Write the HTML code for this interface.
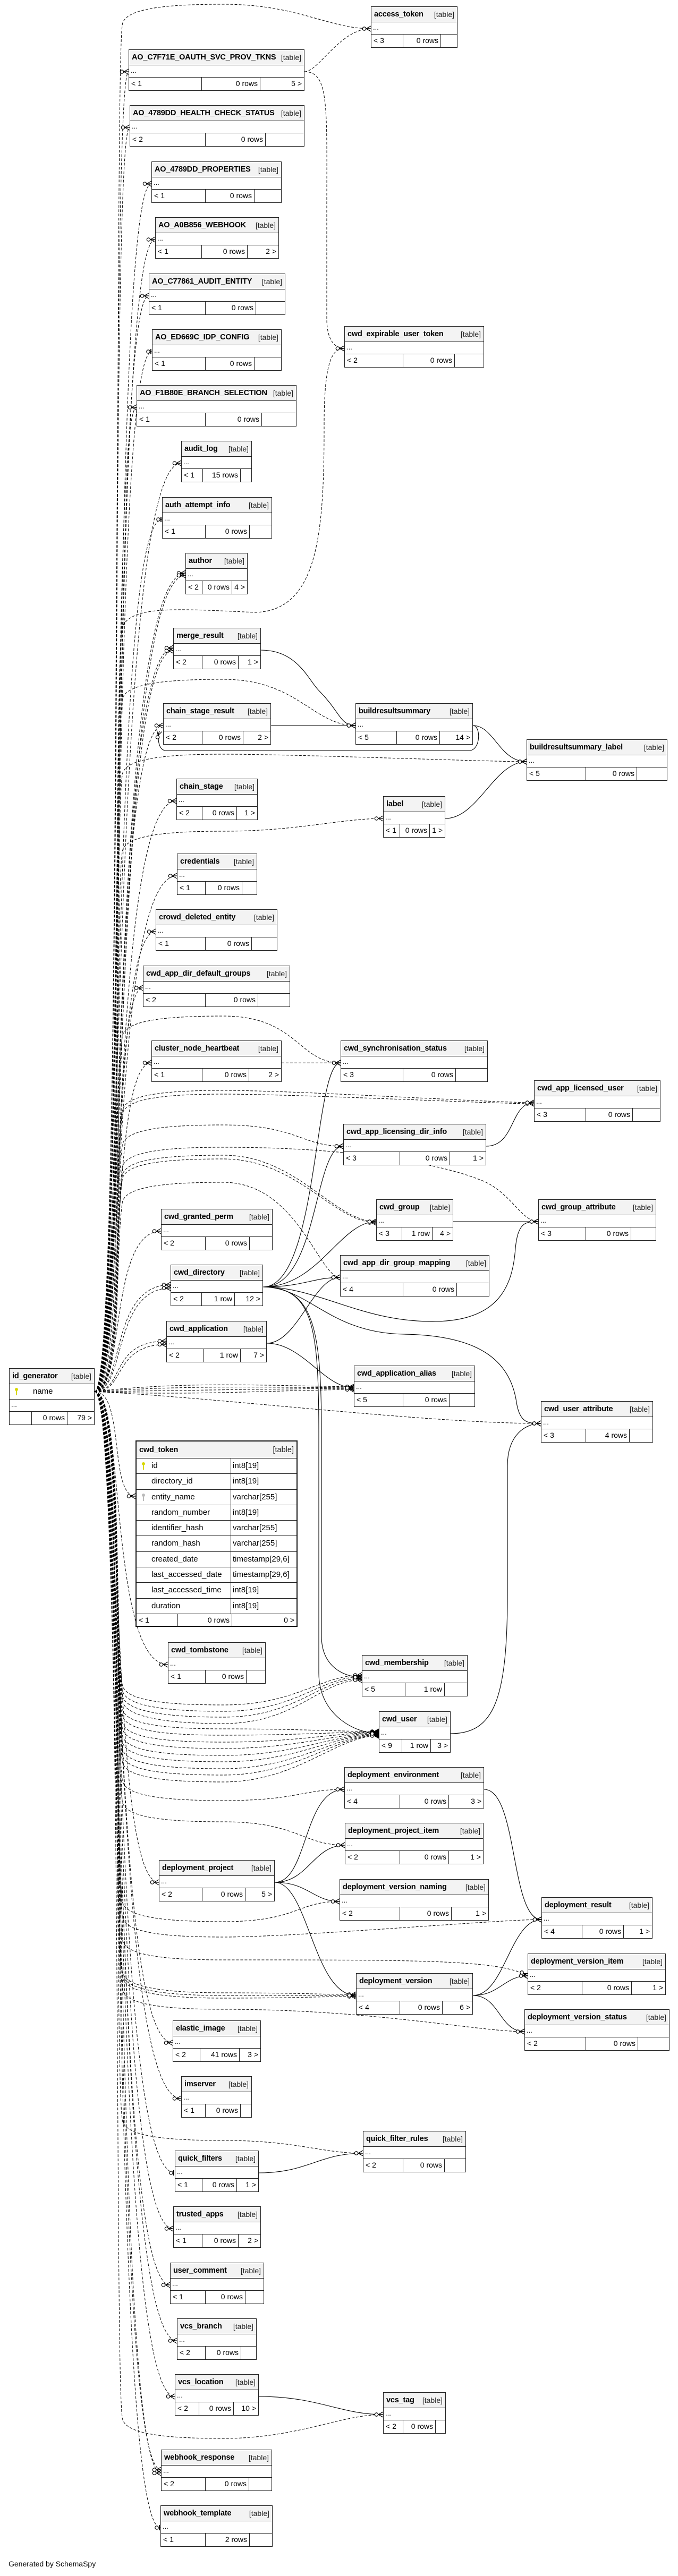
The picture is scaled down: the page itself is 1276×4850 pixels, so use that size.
<!DOCTYPE html>
<html><head><meta charset="utf-8">
<style>
html,body{margin:0;padding:0;background:#fff}
body{width:1276px;height:4850px;position:relative;overflow:hidden;font-family:"Liberation Sans",sans-serif;color:#000}
svg.e{position:absolute;left:0;top:0}
.t{position:absolute;border:1px solid #222;background:#fff;box-sizing:border-box;font-size:14px}
.h{height:28px;background:#f3f3f3;border-bottom:1px solid #222;display:flex;justify-content:space-between;align-items:center;padding:0 5px;font-size:14px;white-space:nowrap;overflow:hidden}
.h b{font-size:14.5px;letter-spacing:-0.2px}
.h span{color:#222;margin-left:6px}
.r{height:22px;border-bottom:1px solid #222;line-height:20px;padding-left:3px;font-size:13px}
.f{height:24px;display:flex;line-height:23px;white-space:nowrap;font-size:14px}
.f i{font-style:normal;box-sizing:border-box;border-right:1px solid #222;padding:0 4px;overflow:hidden}
.f i:last-child{border-right:none;flex:1}
.n{text-align:right}
.tk{border:2px solid #111}
.tk .row{height:29.3px;display:flex;border-bottom:1px solid #222;box-sizing:border-box;line-height:28px;font-size:15px}
.tk .row .a{width:178px;border-right:1px solid #222;padding-left:28px;box-sizing:border-box;position:relative}
.tk .row .b{flex:1;padding-left:3px}
.key{position:absolute;left:10px;top:7px;width:6px;height:6px;border-radius:50%;background:#d8d800}
.key:after{content:"";position:absolute;left:2px;top:5px;width:2px;height:9px;background:#d8d800}
.key.g,.key.g:after{background:#bbb}
.gen{position:absolute;left:16px;top:4819px;font-size:14px}
</style></head><body>
<svg class="e" width="1276" height="4850" viewBox="0 0 1276 4850">
<defs>
<marker id="m" markerUnits="userSpaceOnUse" markerWidth="22" markerHeight="14" refX="21" refY="7" orient="auto"><path d="M12 7 L21 2 M12 7 L21 7 M12 7 L21 12" stroke="#000" stroke-width="1.2" fill="none"/><circle cx="8.5" cy="7" r="3.2" fill="#fff" stroke="#000" stroke-width="1.2"/></marker>
<marker id="b" markerUnits="userSpaceOnUse" markerWidth="22" markerHeight="14" refX="21" refY="7" orient="auto"><path d="M19 2 L19 12" stroke="#000" stroke-width="2" fill="none"/><circle cx="14" cy="7" r="3.2" fill="#fff" stroke="#000" stroke-width="1.2"/></marker>
</defs>
<g fill="none" stroke="#000" stroke-width="1" stroke-dasharray="5,3" marker-end="url(#m)">
<path d="M178 2620 C232 2620 215 158 230 48 C232 18 300 8 420 8 C560 8 618 54 698 54"/>
<path d="M178 2620 C235 2620 205 135 242 135"/>
<path d="M178 2620 C235 2620 205 240 244 240"/>
<path d="M178 2620 C235 2620 205 346 285 346"/>
<path d="M178 2620 C235 2620 205 451 292 451"/>
<path d="M178 2620 C235 2620 205 557 280 557"/>
<path d="M178 2620 C235 2620 205 662 286 662" marker-end="url(#b)"/>
<path d="M178 2620 C235 2620 205 767 257 767"/>
<path d="M178 2620 C235 2620 205 872 341 872"/>
<path d="M178 2620 C235 2620 205 978 305 978" marker-end="url(#b)"/>
<path d="M178 2620 C235 2620 205 1079 349 1079"/>
<path d="M178 2620 C238 2620 210 1087 349 1083"/>
<path d="M178 2620 C232 2620 212 1300 230 1180 C250 1140 330 1146 480 1153 C600 1150 610 1000 610 800 C610 680 625 656 648 656"/>
<path d="M178 2620 C235 2620 205 1220 326 1220"/>
<path d="M178 2620 C238 2620 210 1228 326 1225"/>
<path d="M178 2620 C232 2620 215 1429 230 1319 C232 1289 300 1279 420 1279 C560 1279 589 1366 669 1366"/>
<path d="M178 2620 C235 2620 205 1366 307 1366"/>
<path d="M178 2620 C232 2620 215 1570 230 1460 C232 1430 300 1420 420 1420 C560 1420 911 1434 991 1434"/>
<path d="M178 2620 C235 2620 205 1508 332 1508"/>
<path d="M178 2620 C232 2620 215 1715 230 1605 C232 1575 300 1565 420 1565 C560 1565 641 1541 721 1541"/>
<path d="M178 2620 C235 2620 205 1649 333 1649"/>
<path d="M178 2620 C235 2620 205 1754 293 1754"/>
<path d="M178 2620 C235 2620 205 1860 269 1860"/>
<path d="M178 2620 C235 2620 205 2001 285 2001"/>
<path d="M178 2620 C232 2620 215 2063 230 1953 C232 1923 300 1913 420 1913 C560 1913 561 2001 641 2001"/>
<path d="M178 2620 C232 2620 215 2203 230 2093 C232 2063 300 2053 420 2053 C560 2053 925 2076 1005 2076"/>
<path d="M178 2620 C232 2620 215 2210 230 2100 C232 2070 300 2060 420 2060 C560 2060 925 2078 1005 2078"/>
<path d="M178 2620 C232 2620 215 2268 230 2158 C232 2128 300 2118 420 2118 C560 2118 566 2158 646 2158"/>
<path d="M178 2620 C232 2620 215 2325 230 2215 C232 2185 300 2175 420 2175 C560 2175 628 2300 708 2300"/>
<path d="M178 2620 C232 2620 215 2332 230 2222 C232 2192 300 2182 420 2182 C560 2182 628 2302 708 2302"/>
<path d="M178 2620 C232 2620 215 2310 230 2200 C232 2170 300 2160 420 2160 C700 2160 850 2200 900 2220 C960 2240 980 2300 1013 2300"/>
<path d="M178 2620 C232 2620 215 2376 230 2266 C232 2236 300 2226 420 2226 C560 2226 600 2405 640 2405"/>
<path d="M178 2620 C235 2620 205 2318 303 2318"/>
<path d="M178 2620 C235 2620 205 2419 321 2419"/>
<path d="M178 2620 C238 2620 210 2427 321 2425"/>
<path d="M178 2620 C235 2620 205 2525 313 2525"/>
<path d="M178 2620 C238 2620 210 2533 313 2531"/>
<path d="M178 2620 C350 2600 500 2609 666 2611"/>
<path d="M178 2620 C350 2608 500 2612 666 2613"/>
<path d="M178 2620 C350 2618 500 2615 666 2614"/>
<path d="M178 2620 C350 2628 500 2618 666 2616"/>
<path d="M178 2620 C400 2630 800 2680 1018 2680"/>
<path d="M178 2620 C235 2620 205 2817 255 2817"/>
<path d="M178 2620 C235 2620 205 3134 316 3134"/>
<path d="M178 2620 C232 2620 215 3060 230 3170 C232 3200 300 3210 420 3210 C560 3210 601 3154 681 3154"/>
<path d="M178 2620 C232 2620 215 3070 230 3180 C232 3210 300 3222 420 3222 C560 3222 601 3157 681 3157"/>
<path d="M178 2620 C232 2620 215 3080 230 3190 C232 3220 300 3233 420 3233 C560 3233 601 3160 681 3160"/>
<path d="M178 2620 C232 2620 215 3090 230 3200 C232 3230 300 3245 420 3245 C560 3245 601 3163 681 3163"/>
<path d="M178 2620 C232 2620 215 3105 230 3215 C232 3245 300 3255 420 3255 C560 3255 633 3260 713 3260"/>
<path d="M178 2620 C232 2620 215 3117 230 3227 C232 3257 300 3267 420 3267 C560 3267 633 3261 713 3261"/>
<path d="M178 2620 C232 2620 215 3130 230 3240 C232 3270 300 3280 420 3280 C560 3280 633 3262 713 3262"/>
<path d="M178 2620 C232 2620 215 3142 230 3252 C232 3282 300 3292 420 3292 C560 3292 633 3263 713 3263"/>
<path d="M178 2620 C232 2620 215 3155 230 3265 C232 3295 300 3305 420 3305 C560 3305 633 3264 713 3264"/>
<path d="M178 2620 C232 2620 215 3167 230 3277 C232 3307 300 3317 420 3317 C560 3317 633 3265 713 3265"/>
<path d="M178 2620 C232 2620 215 3180 230 3290 C232 3320 300 3330 420 3330 C560 3330 633 3266 713 3266"/>
<path d="M178 2620 C232 2620 215 3192 230 3302 C232 3332 300 3342 420 3342 C560 3342 633 3267 713 3267"/>
<path d="M178 2620 C232 2620 215 3205 230 3315 C232 3345 300 3355 420 3355 C560 3355 633 3268 713 3268"/>
<path d="M178 2620 C232 2620 215 3240 230 3350 C232 3380 300 3390 420 3390 C560 3390 568 3369 648 3369"/>
<path d="M178 2620 C232 2620 215 3280 230 3390 C232 3420 300 3430 420 3430 C560 3430 569 3474 649 3474"/>
<path d="M178 2620 C235 2620 205 3544 299 3544"/>
<path d="M178 2620 C232 2620 215 3468 230 3578 C232 3608 300 3618 420 3618 C560 3618 559 3580 639 3580"/>
<path d="M178 2620 C232 2620 215 3497 230 3607 C232 3637 300 3647 420 3647 C560 3647 939 3614 1019 3614"/>
<path d="M178 2620 C232 2620 215 3540 230 3650 C232 3680 300 3690 420 3690 C800 3690 940 3690 993 3720"/>
<path d="M178 2620 C232 2620 215 3600 230 3710 C232 3740 300 3752 420 3752 C560 3752 590 3755 670 3755"/>
<path d="M178 2620 C232 2620 215 3605 230 3715 C232 3745 300 3757 420 3757 C560 3757 590 3757 670 3757"/>
<path d="M178 2620 C232 2620 215 3610 230 3720 C232 3750 300 3762 420 3762 C560 3762 590 3759 670 3759"/>
<path d="M178 2620 C232 2620 215 3633 230 3743 C232 3773 300 3783 420 3783 C700 3783 900 3825 987 3825"/>
<path d="M178 2620 C235 2620 205 3846 325 3846"/>
<path d="M178 2620 C235 2620 205 3951 341 3951"/>
<path d="M178 2620 C232 2620 215 3880 230 3990 C232 4020 300 4030 420 4030 C560 4030 603 4054 683 4054"/>
<path d="M178 2620 C235 2620 205 4091 329 4091" marker-end="url(#b)"/>
<path d="M178 2620 C235 2620 205 4196 326 4196"/>
<path d="M178 2620 C235 2620 205 4302 320 4302"/>
<path d="M178 2620 C235 2620 205 4407 333 4407"/>
<path d="M178 2620 C235 2620 205 4512 329 4512"/>
<path d="M178 2620 C232 2620 215 4441 230 4551 C232 4581 300 4591 420 4591 C560 4591 641 4546 721 4546"/>
<path d="M178 2620 C235 2620 205 4650 303 4650"/>
<path d="M178 2620 C238 2620 210 4658 303 4656"/>
<path d="M178 2620 C235 2620 205 4759 302 4759" marker-end="url(#b)"/>
<path d="M573 135 C600 135 640 54 698 54"/>
<path d="M573 135 C620 135 615 200 615 400 L615 600 C615 640 630 656 648 656"/>
<path d="M530 2001 L641 2001" stroke="#888"/>
</g>
<g fill="none" stroke="#000" stroke-width="1.1" marker-end="url(#m)">
<path d="M491 1224 C560 1224 580 1280 600 1300 C640 1340 640 1366 669 1366"/>
<path d="M510 1366 L669 1366"/>
<path d="M890 1366 C905 1366 905 1410 885 1413 L310 1413 C298 1410 296 1390 300 1376"/>
<path d="M890 1366 C930 1366 940 1434 991 1434"/>
<path d="M838 1541 C900 1541 930 1434 991 1434"/>
<path d="M495 2423 C600 2423 590 2001 641 2001"/>
<path d="M495 2423 C600 2423 590 2158 646 2158"/>
<path d="M495 2423 C600 2423 640 2300 708 2300"/>
<path d="M495 2423 C570 2423 590 2405 640 2405"/>
<path d="M495 2423 C600 2423 680 2490 820 2488 C940 2486 965 2420 970 2350 C975 2300 990 2300 1013 2300"/>
<path d="M495 2423 C580 2423 620 2510 760 2512 C900 2514 960 2560 972 2640 C978 2680 995 2680 1018 2680"/>
<path d="M495 2423 C590 2423 605 2500 605 2700 L605 3080 C605 3140 650 3158 681 3158"/>
<path d="M495 2423 C590 2423 600 2500 600 2700 L600 3150 C600 3230 670 3264 713 3264"/>
<path d="M915 2158 C970 2158 960 2076 1005 2076"/>
<path d="M853 2300 L1013 2300"/>
<path d="M502 2529 C560 2529 590 2405 640 2405"/>
<path d="M502 2529 C570 2529 610 2613 666 2613"/>
<path d="M848 3264 C930 3264 955 3200 955 3000 L955 2760 C955 2700 990 2680 1018 2680"/>
<path d="M517 3544 C580 3544 570 3369 648 3369"/>
<path d="M517 3544 C580 3544 590 3474 649 3474"/>
<path d="M517 3544 C580 3544 590 3580 639 3580"/>
<path d="M517 3544 C580 3544 590 3757 670 3757"/>
<path d="M911 3369 C975 3369 960 3614 1019 3614"/>
<path d="M890 3757 C950 3757 960 3614 1019 3614"/>
<path d="M890 3757 C940 3757 950 3720 993 3720"/>
<path d="M890 3757 C940 3757 940 3825 987 3825"/>
<path d="M487 4091 C580 4091 600 4054 683 4054"/>
<path d="M487 4512 C600 4512 640 4546 721 4546"/>
</g>
</svg>

<div class="t" style="left:698px;top:12px;width:163px"><div class="h"><b>access_token</b><span>[table]</span></div><div class="r">...</div><div class="f"><i style="width:60px">&lt; 3</i><i class="n" style="width:71px">0 rows</i><i></i></div></div>
<div class="t" style="left:242px;top:93px;width:331px"><div class="h"><b>AO_C7F71E_OAUTH_SVC_PROV_TKNS</b><span>[table]</span></div><div class="r">...</div><div class="f"><i style="width:137px">&lt; 1</i><i class="n" style="width:110px">0 rows</i><i class="n">5 &gt;</i></div></div>
<div class="t" style="left:244px;top:198px;width:329px"><div class="h"><b>AO_4789DD_HEALTH_CHECK_STATUS</b><span>[table]</span></div><div class="r">...</div><div class="f"><i style="width:142px">&lt; 2</i><i class="n" style="width:113px">0 rows</i><i></i></div></div>
<div class="t" style="left:285px;top:304px;width:245px"><div class="h"><b>AO_4789DD_PROPERTIES</b><span>[table]</span></div><div class="r">...</div><div class="f"><i style="width:101px">&lt; 1</i><i class="n" style="width:92px">0 rows</i><i></i></div></div>
<div class="t" style="left:292px;top:409px;width:233px"><div class="h"><b>AO_A0B856_WEBHOOK</b><span>[table]</span></div><div class="r">...</div><div class="f"><i style="width:87px">&lt; 1</i><i class="n" style="width:86px">0 rows</i><i class="n">2 &gt;</i></div></div>
<div class="t" style="left:280px;top:515px;width:257px"><div class="h"><b>AO_C77861_AUDIT_ENTITY</b><span>[table]</span></div><div class="r">...</div><div class="f"><i style="width:106px">&lt; 1</i><i class="n" style="width:95px">0 rows</i><i></i></div></div>
<div class="t" style="left:286px;top:620px;width:244px"><div class="h"><b>AO_ED669C_IDP_CONFIG</b><span>[table]</span></div><div class="r">...</div><div class="f"><i style="width:100px">&lt; 1</i><i class="n" style="width:92px">0 rows</i><i></i></div></div>
<div class="t" style="left:257px;top:725px;width:301px"><div class="h"><b>AO_F1B80E_BRANCH_SELECTION</b><span>[table]</span></div><div class="r">...</div><div class="f"><i style="width:129px">&lt; 1</i><i class="n" style="width:106px">0 rows</i><i></i></div></div>
<div class="t" style="left:341px;top:830px;width:133px"><div class="h"><b>audit_log</b><span>[table]</span></div><div class="r">...</div><div class="f"><i style="width:40px">&lt; 1</i><i class="n" style="width:71px">15 rows</i><i></i></div></div>
<div class="t" style="left:305px;top:936px;width:207px"><div class="h"><b>auth_attempt_info</b><span>[table]</span></div><div class="r">...</div><div class="f"><i style="width:81px">&lt; 1</i><i class="n" style="width:83px">0 rows</i><i></i></div></div>
<div class="t" style="left:648px;top:614px;width:263px"><div class="h"><b>cwd_expirable_user_token</b><span>[table]</span></div><div class="r">...</div><div class="f"><i style="width:110px">&lt; 2</i><i class="n" style="width:97px">0 rows</i><i></i></div></div>
<div class="t" style="left:349px;top:1041px;width:117px"><div class="h"><b>author</b><span>[table]</span></div><div class="r">...</div><div class="f"><i style="width:31px">&lt; 2</i><i class="n" style="width:56px">0 rows</i><i class="n">4 &gt;</i></div></div>
<div class="t" style="left:326px;top:1182px;width:165px"><div class="h"><b>merge_result</b><span>[table]</span></div><div class="r">...</div><div class="f"><i style="width:54px">&lt; 2</i><i class="n" style="width:68px">0 rows</i><i class="n">1 &gt;</i></div></div>
<div class="t" style="left:307px;top:1324px;width:203px"><div class="h"><b>chain_stage_result</b><span>[table]</span></div><div class="r">...</div><div class="f"><i style="width:73px">&lt; 2</i><i class="n" style="width:77px">0 rows</i><i class="n">2 &gt;</i></div></div>
<div class="t" style="left:669px;top:1324px;width:221px"><div class="h"><b>buildresultsummary</b><span>[table]</span></div><div class="r">...</div><div class="f"><i style="width:77px">&lt; 5</i><i class="n" style="width:81px">0 rows</i><i class="n">14 &gt;</i></div></div>
<div class="t" style="left:991px;top:1392px;width:265px"><div class="h"><b>buildresultsummary_label</b><span>[table]</span></div><div class="r">...</div><div class="f"><i style="width:111px">&lt; 5</i><i class="n" style="width:96px">0 rows</i><i></i></div></div>
<div class="t" style="left:332px;top:1466px;width:153px"><div class="h"><b>chain_stage</b><span>[table]</span></div><div class="r">...</div><div class="f"><i style="width:48px">&lt; 2</i><i class="n" style="width:65px">0 rows</i><i class="n">1 &gt;</i></div></div>
<div class="t" style="left:721px;top:1499px;width:117px"><div class="h"><b>label</b><span>[table]</span></div><div class="r">...</div><div class="f"><i style="width:31px">&lt; 1</i><i class="n" style="width:56px">0 rows</i><i class="n">1 &gt;</i></div></div>
<div class="t" style="left:333px;top:1607px;width:151px"><div class="h"><b>credentials</b><span>[table]</span></div><div class="r">...</div><div class="f"><i style="width:53px">&lt; 1</i><i class="n" style="width:69px">0 rows</i><i></i></div></div>
<div class="t" style="left:293px;top:1712px;width:229px"><div class="h"><b>crowd_deleted_entity</b><span>[table]</span></div><div class="r">...</div><div class="f"><i style="width:93px">&lt; 1</i><i class="n" style="width:87px">0 rows</i><i></i></div></div>
<div class="t" style="left:269px;top:1818px;width:277px"><div class="h"><b>cwd_app_dir_default_groups</b><span>[table]</span></div><div class="r">...</div><div class="f"><i style="width:117px">&lt; 2</i><i class="n" style="width:99px">0 rows</i><i></i></div></div>
<div class="t" style="left:285px;top:1959px;width:245px"><div class="h"><b>cluster_node_heartbeat</b><span>[table]</span></div><div class="r">...</div><div class="f"><i style="width:95px">&lt; 1</i><i class="n" style="width:88px">0 rows</i><i class="n">2 &gt;</i></div></div>
<div class="t" style="left:641px;top:1959px;width:277px"><div class="h"><b>cwd_synchronisation_status</b><span>[table]</span></div><div class="r">...</div><div class="f"><i style="width:117px">&lt; 3</i><i class="n" style="width:99px">0 rows</i><i></i></div></div>
<div class="t" style="left:1005px;top:2034px;width:238px"><div class="h"><b>cwd_app_licensed_user</b><span>[table]</span></div><div class="r">...</div><div class="f"><i style="width:97px">&lt; 3</i><i class="n" style="width:88px">0 rows</i><i></i></div></div>
<div class="t" style="left:646px;top:2116px;width:269px"><div class="h"><b>cwd_app_licensing_dir_info</b><span>[table]</span></div><div class="r">...</div><div class="f"><i style="width:106px">&lt; 3</i><i class="n" style="width:94px">0 rows</i><i class="n">1 &gt;</i></div></div>
<div class="t" style="left:708px;top:2258px;width:145px"><div class="h"><b>cwd_group</b><span>[table]</span></div><div class="r">...</div><div class="f"><i style="width:48px">&lt; 3</i><i class="n" style="width:57px">1 row</i><i class="n">4 &gt;</i></div></div>
<div class="t" style="left:1013px;top:2258px;width:222px"><div class="h"><b>cwd_group_attribute</b><span>[table]</span></div><div class="r">...</div><div class="f"><i style="width:89px">&lt; 3</i><i class="n" style="width:85px">0 rows</i><i></i></div></div>
<div class="t" style="left:303px;top:2276px;width:210px"><div class="h"><b>cwd_granted_perm</b><span>[table]</span></div><div class="r">...</div><div class="f"><i style="width:83px">&lt; 2</i><i class="n" style="width:83px">0 rows</i><i></i></div></div>
<div class="t" style="left:640px;top:2363px;width:281px"><div class="h"><b>cwd_app_dir_group_mapping</b><span>[table]</span></div><div class="r">...</div><div class="f"><i style="width:118px">&lt; 4</i><i class="n" style="width:101px">0 rows</i><i></i></div></div>
<div class="t" style="left:321px;top:2381px;width:174px"><div class="h"><b>cwd_directory</b><span>[table]</span></div><div class="r">...</div><div class="f"><i style="width:58px">&lt; 2</i><i class="n" style="width:62px">1 row</i><i class="n">12 &gt;</i></div></div>
<div class="t" style="left:313px;top:2487px;width:189px"><div class="h"><b>cwd_application</b><span>[table]</span></div><div class="r">...</div><div class="f"><i style="width:69px">&lt; 2</i><i class="n" style="width:70px">1 row</i><i class="n">7 &gt;</i></div></div>
<div class="t" style="left:666px;top:2571px;width:228px"><div class="h"><b>cwd_application_alias</b><span>[table]</span></div><div class="r">...</div><div class="f"><i style="width:92px">&lt; 5</i><i class="n" style="width:87px">0 rows</i><i></i></div></div>
<div class="t" style="left:1018px;top:2638px;width:211px"><div class="h"><b>cwd_user_attribute</b><span>[table]</span></div><div class="r">...</div><div class="f"><i style="width:84px">&lt; 3</i><i class="n" style="width:82px">4 rows</i><i></i></div></div>

<div class="t" style="left:17px;top:2576px;width:161px"><div class="h"><b>id_generator</b><span>[table]</span></div><div style="height:28px;border-bottom:1px solid #222;position:relative;line-height:28px;font-size:15px;padding-left:44px"><span class="key"></span>name</div><div class="r">...</div><div class="f"><i style="width:42px"></i><i class="n" style="width:67px">0 rows</i><i class="n">79 &gt;</i></div></div>

<div class="t tk" style="left:255px;top:2712px;width:305px;height:351px"><div class="h" style="height:31px;font-size:14.5px"><b>cwd_token</b><span>[table]</span></div>
<div class="row"><div class="a"><span class="key"></span>id</div><div class="b">int8[19]</div></div>
<div class="row"><div class="a">directory_id</div><div class="b">int8[19]</div></div>
<div class="row"><div class="a"><span class="key g"></span>entity_name</div><div class="b">varchar[255]</div></div>
<div class="row"><div class="a">random_number</div><div class="b">int8[19]</div></div>
<div class="row"><div class="a">identifier_hash</div><div class="b">varchar[255]</div></div>
<div class="row"><div class="a">random_hash</div><div class="b">varchar[255]</div></div>
<div class="row"><div class="a">created_date</div><div class="b">timestamp[29,6]</div></div>
<div class="row"><div class="a">last_accessed_date</div><div class="b">timestamp[29,6]</div></div>
<div class="row"><div class="a">last_accessed_time</div><div class="b">int8[19]</div></div>
<div class="row"><div class="a">duration</div><div class="b">int8[19]</div></div>
<div class="f"><i style="width:78px">&lt; 1</i><i class="n" style="width:102px">0 rows</i><i class="n">0 &gt;</i></div></div>

<div class="t" style="left:316px;top:3092px;width:184px"><div class="h"><b>cwd_tombstone</b><span>[table]</span></div><div class="r">...</div><div class="f"><i style="width:70px">&lt; 1</i><i class="n" style="width:77px">0 rows</i><i></i></div></div>
<div class="t" style="left:681px;top:3116px;width:199px"><div class="h"><b>cwd_membership</b><span>[table]</span></div><div class="r">...</div><div class="f"><i style="width:81px">&lt; 5</i><i class="n" style="width:74px">1 row</i><i></i></div></div>
<div class="t" style="left:713px;top:3222px;width:135px"><div class="h"><b>cwd_user</b><span>[table]</span></div><div class="r">...</div><div class="f"><i style="width:43px">&lt; 9</i><i class="n" style="width:54px">1 row</i><i class="n">3 &gt;</i></div></div>
<div class="t" style="left:648px;top:3327px;width:263px"><div class="h"><b>deployment_environment</b><span>[table]</span></div><div class="r">...</div><div class="f"><i style="width:104px">&lt; 4</i><i class="n" style="width:92px">0 rows</i><i class="n">3 &gt;</i></div></div>
<div class="t" style="left:649px;top:3432px;width:261px"><div class="h"><b>deployment_project_item</b><span>[table]</span></div><div class="r">...</div><div class="f"><i style="width:103px">&lt; 2</i><i class="n" style="width:92px">0 rows</i><i class="n">1 &gt;</i></div></div>
<div class="t" style="left:299px;top:3502px;width:218px"><div class="h"><b>deployment_project</b><span>[table]</span></div><div class="r">...</div><div class="f"><i style="width:81px">&lt; 2</i><i class="n" style="width:81px">0 rows</i><i class="n">5 &gt;</i></div></div>
<div class="t" style="left:639px;top:3538px;width:281px"><div class="h"><b>deployment_version_naming</b><span>[table]</span></div><div class="r">...</div><div class="f"><i style="width:113px">&lt; 2</i><i class="n" style="width:97px">0 rows</i><i class="n">1 &gt;</i></div></div>
<div class="t" style="left:1019px;top:3572px;width:209px"><div class="h"><b>deployment_result</b><span>[table]</span></div><div class="r">...</div><div class="f"><i style="width:76px">&lt; 4</i><i class="n" style="width:78px">0 rows</i><i class="n">1 &gt;</i></div></div>
<div class="t" style="left:993px;top:3678px;width:260px"><div class="h"><b>deployment_version_item</b><span>[table]</span></div><div class="r">...</div><div class="f"><i style="width:102px">&lt; 2</i><i class="n" style="width:93px">0 rows</i><i class="n">1 &gt;</i></div></div>
<div class="t" style="left:670px;top:3715px;width:220px"><div class="h"><b>deployment_version</b><span>[table]</span></div><div class="r">...</div><div class="f"><i style="width:82px">&lt; 4</i><i class="n" style="width:80px">0 rows</i><i class="n">6 &gt;</i></div></div>
<div class="t" style="left:987px;top:3783px;width:273px"><div class="h"><b>deployment_version_status</b><span>[table]</span></div><div class="r">...</div><div class="f"><i style="width:115px">&lt; 2</i><i class="n" style="width:98px">0 rows</i><i></i></div></div>
<div class="t" style="left:325px;top:3804px;width:166px"><div class="h"><b>elastic_image</b><span>[table]</span></div><div class="r">...</div><div class="f"><i style="width:51px">&lt; 2</i><i class="n" style="width:74px">41 rows</i><i class="n">3 &gt;</i></div></div>
<div class="t" style="left:341px;top:3909px;width:133px"><div class="h"><b>imserver</b><span>[table]</span></div><div class="r">...</div><div class="f"><i style="width:45px">&lt; 1</i><i class="n" style="width:66px">0 rows</i><i></i></div></div>
<div class="t" style="left:683px;top:4012px;width:194px"><div class="h"><b>quick_filter_rules</b><span>[table]</span></div><div class="r">...</div><div class="f"><i style="width:75px">&lt; 2</i><i class="n" style="width:78px">0 rows</i><i></i></div></div>
<div class="t" style="left:329px;top:4049px;width:158px"><div class="h"><b>quick_filters</b><span>[table]</span></div><div class="r">...</div><div class="f"><i style="width:51px">&lt; 1</i><i class="n" style="width:65px">0 rows</i><i class="n">1 &gt;</i></div></div>
<div class="t" style="left:326px;top:4154px;width:165px"><div class="h"><b>trusted_apps</b><span>[table]</span></div><div class="r">...</div><div class="f"><i style="width:54px">&lt; 1</i><i class="n" style="width:68px">0 rows</i><i class="n">2 &gt;</i></div></div>
<div class="t" style="left:320px;top:4260px;width:177px"><div class="h"><b>user_comment</b><span>[table]</span></div><div class="r">...</div><div class="f"><i style="width:66px">&lt; 1</i><i class="n" style="width:75px">0 rows</i><i></i></div></div>
<div class="t" style="left:333px;top:4365px;width:150px"><div class="h"><b>vcs_branch</b><span>[table]</span></div><div class="r">...</div><div class="f"><i style="width:53px">&lt; 2</i><i class="n" style="width:67px">0 rows</i><i></i></div></div>
<div class="t" style="left:329px;top:4470px;width:158px"><div class="h"><b>vcs_location</b><span>[table]</span></div><div class="r">...</div><div class="f"><i style="width:45px">&lt; 2</i><i class="n" style="width:65px">0 rows</i><i class="n">10 &gt;</i></div></div>
<div class="t" style="left:721px;top:4504px;width:118px"><div class="h"><b>vcs_tag</b><span>[table]</span></div><div class="r">...</div><div class="f"><i style="width:37px">&lt; 2</i><i class="n" style="width:61px">0 rows</i><i></i></div></div>
<div class="t" style="left:303px;top:4612px;width:209px"><div class="h"><b>webhook_response</b><span>[table]</span></div><div class="r">...</div><div class="f"><i style="width:83px">&lt; 2</i><i class="n" style="width:82px">0 rows</i><i></i></div></div>
<div class="t" style="left:302px;top:4717px;width:211px"><div class="h"><b>webhook_template</b><span>[table]</span></div><div class="r">...</div><div class="f"><i style="width:84px">&lt; 1</i><i class="n" style="width:83px">2 rows</i><i></i></div></div>

<div class="gen">Generated by SchemaSpy</div>
</body></html>
